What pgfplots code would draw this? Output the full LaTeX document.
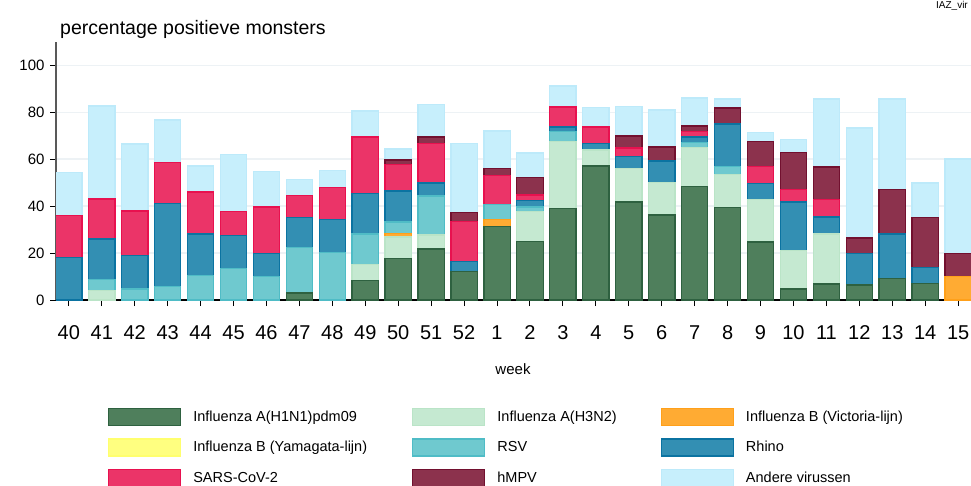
\documentclass[border=0pt]{standalone}
\usepackage{fontspec}
\setmainfont{Liberation Sans}
\usepackage{pgfplots}
\pgfplotsset{compat=1.18}
\usepackage{pgfplotstable}

\definecolor{fH1}{HTML}{4F7F5C}\definecolor{dH1}{HTML}{2E6140}
\definecolor{fH3}{HTML}{C5E9D1}\definecolor{dH3}{HTML}{BAE4C7}
\definecolor{fVic}{HTML}{FFAB33}\definecolor{dVic}{HTML}{FFA01A}
\definecolor{fYam}{HTML}{FFFF80}\definecolor{dYam}{HTML}{FFFF6E}
\definecolor{fRSV}{HTML}{6FC9CF}\definecolor{dRSV}{HTML}{4FBCC6}
\definecolor{fRhi}{HTML}{338FB3}\definecolor{dRhi}{HTML}{0B73A1}
\definecolor{fSar}{HTML}{EB3468}\definecolor{dSar}{HTML}{E8114F}
\definecolor{fHmp}{HTML}{8C324D}\definecolor{dHmp}{HTML}{72102F}
\definecolor{fAnd}{HTML}{C7EFFC}\definecolor{dAnd}{HTML}{BDEAFA}
\definecolor{gridc}{HTML}{EDF2F5}

\pgfplotstableread{
idx h1 h3 vic yam rsv rhino sars hmpv andere
0 0 0 0 0 0 18 18 0 18.5
1 0 4 0 0 4.6 17.4 17 0 39.7
2 0 0 0 0 4.7 14.3 18.9 0 28.6
3 0 0 0 0 5.8 35.2 17.6 0 18.1
4 0 0 0 0 10.3 17.9 17.9 0 11
5 0 0 0 0 13.5 13.9 10.2 0 24.4
6 0 0 0 0 10 9.7 19.9 0 15.3
7 3 0 0 0 19.3 13 9.4 0 6.8
8 0 0 0 0 20.4 13.8 13.9 0 7.2
9 8.2 6.8 0 0 13.2 17.3 24 0 11.1
10 17.6 9.2 1.7 0 4.7 13.3 11.2 2 4.7
11 21.8 5.9 0 0 16.6 5.6 16.7 2.9 14
12 12.2 0 0 0 0 4.2 17 3.9 29.3
13 31.2 0 3.1 0 6.3 0 12.4 3.2 15.8
14 24.8 12.8 0 0 2.1 2.6 2.5 7.5 10.4
15 38.9 28.6 0 0 4.2 2 8.6 0 8.9
16 57.1 6.9 0 0 0 2.8 6.9 0 8.4
17 41.8 14.2 0 0 0 5.1 3.7 5.1 12.6
18 36.3 13.7 0 0 0 9.3 0 5.9 15.8
19 48.5 16.5 0 0 2.2 2.3 2.3 2.4 11.9
20 39.3 14.3 0 0 3.4 18 0 6.8 3.9
21 24.7 18.1 0 0 0 7 7.2 10.7 3.8
22 4.7 16.3 0 0 0 20.8 5.4 15.8 5.5
23 6.8 21.4 0 0 0 7.2 7.3 14 29
24 6.4 0 0 0 0 13.3 0 6.7 46.9
25 9.2 0 0 0 0 19 0 19 38.5
26 6.9 0 0 0 0 7.1 0 21.3 14.6
27 0 0 9.9 0 0 0 0 9.8 40.4
}\datatable

\begin{document}
\begin{tikzpicture}
\path[use as bounding box] (-56bp,-186bp) rectangle (915bp,300bp);
\begin{axis}[
  at={(0,0)}, anchor=south west,
  scale only axis, width=915bp, height=258bp,
  ybar stacked, bar width=0.8,
  xmin=-0.39, xmax=27.39, ymin=0, ymax=110,
  axis x line*=bottom, axis y line*=left,
  x axis line style={black, line width=1.2bp, -},
  y axis line style={black!65, line width=1.5bp, -},
  xtick={0,...,27},
  xticklabels={40,41,42,43,44,45,46,47,48,49,50,51,52,1,2,3,4,5,6,7,8,9,10,11,12,13,14,15},
  ytick={0,20,40,60,80,100},
  ymajorgrids, grid style={gridc, line width=1.6bp},
  tick align=outside, major tick length=6bp,
  tick style={black, line width=1bp},
  /pgf/number format/assume math mode=true,
  xticklabel style={font=\fontsize{20bp}{24bp}\selectfont, anchor=base, yshift=-33bp},
  yticklabel style={font=\fontsize{15bp}{18bp}\selectfont, xshift=-2bp},
  every axis plot/.append style={line width=1.3bp},
  legend columns=3,
  legend cell align=left,
  legend image code/.code={\draw[#1] (0bp,-8.5bp) rectangle (72bp,8.5bp);},
  legend style={draw=none, fill=none, at={(0,0)}, anchor=north west,
    xshift=52bp, yshift=-107.5bp, inner sep=0pt, outer sep=0pt,
    font=\fontsize{14.5bp}{17bp}\selectfont, row sep=12.5bp,
    nodes={inner sep=0pt},
    /tikz/every odd column/.style={column sep=12bp},
    /tikz/column 2/.style={column sep=45bp},
    /tikz/column 4/.style={column sep=44bp}},
]
\addplot[fill=fH1, draw=dH1] table[x=idx, y=h1] {\datatable};
\addplot[fill=fH3, draw=dH3] table[x=idx, y=h3] {\datatable};
\addplot[fill=fVic, draw=dVic] table[x=idx, y=vic] {\datatable};
\addplot[fill=fYam, draw=dYam] table[x=idx, y=yam] {\datatable};
\addplot[fill=fRSV, draw=dRSV] table[x=idx, y=rsv] {\datatable};
\addplot[fill=fRhi, draw=dRhi] table[x=idx, y=rhino] {\datatable};
\addplot[fill=fSar, draw=dSar] table[x=idx, y=sars] {\datatable};
\addplot[fill=fHmp, draw=dHmp] table[x=idx, y=hmpv] {\datatable};
\addplot[fill=fAnd, draw=dAnd] table[x=idx, y=andere] {\datatable};
\legend{Influenza A(H1N1)pdm09, Influenza A(H3N2), Influenza B (Victoria-lijn),
  Influenza B (Yamagata-lijn), RSV, Rhino, SARS-CoV-2, hMPV, Andere virussen}
\end{axis}
\node[anchor=base west, font=\fontsize{19.5bp}{23bp}\selectfont, inner sep=0pt] at (4bp,265bp) {percentage positieve monsters};
\node[anchor=base east, font=\fontsize{10bp}{12bp}\selectfont, inner sep=0pt] at (912bp,291bp) {IAZ\_vir};
\node[anchor=base, font=\fontsize{15bp}{18bp}\selectfont, inner sep=0pt] at (457bp,-74bp) {week};
\end{tikzpicture}
\end{document}
